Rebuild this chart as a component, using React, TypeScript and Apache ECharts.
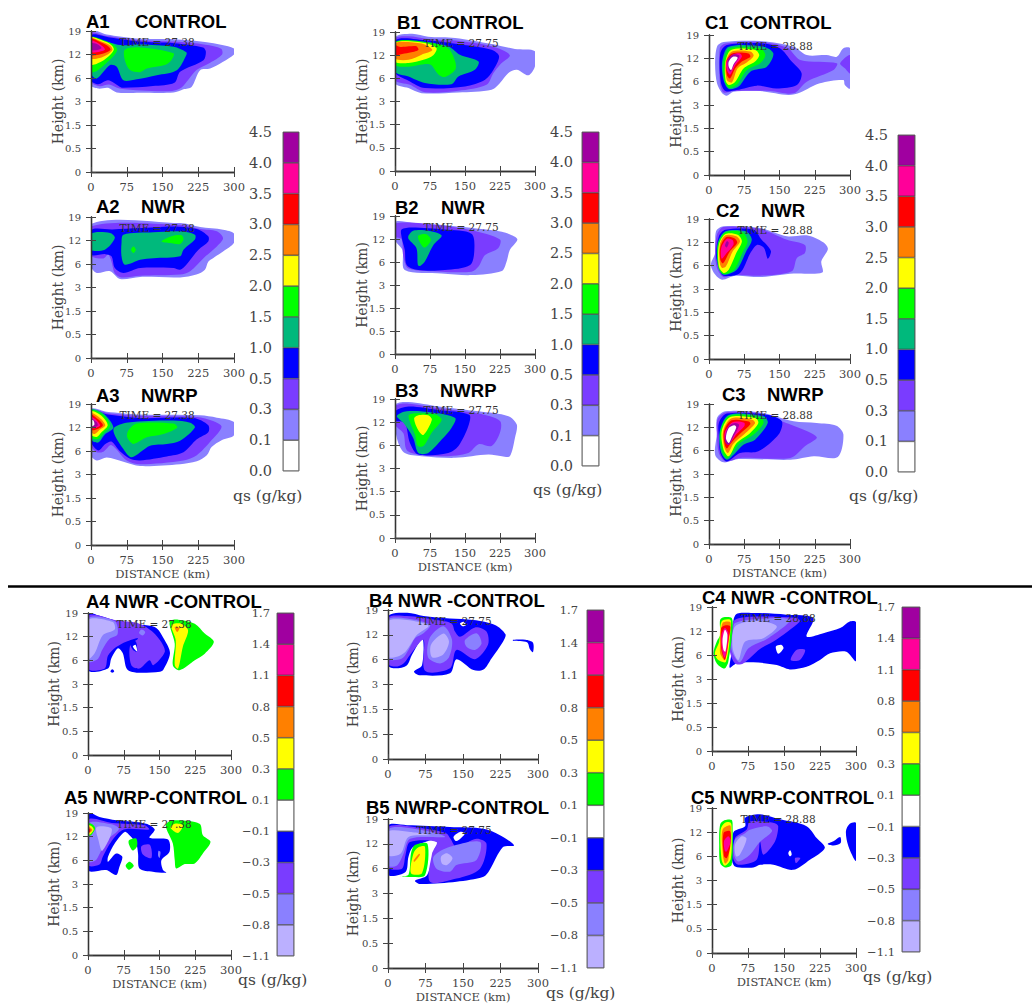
// App.tsx
import React, { useEffect, useRef } from "react";
import * as echarts from "echarts";

// colour index of each contour level
const WH = 0, PA = 1, LA = 2, VI = 3, BL = 4, TE = 5, GR = 6, YE = 7, OR = 8, RE = 9, PK = 10, MA = 11;
const COLORS = ["#ffffff", "#bbb0ff", "#8a80ff", "#7a3cff", "#0000ff", "#00b97c", "#00ff00", "#ffff00", "#ff8000", "#ff0000", "#ff0099", "#a000a0"];

const DISTANCE_TICKS = [0, 75, 150, 225, 300];
const HEIGHT_TICKS = ["0", "0.5", "1.5", "3", "6", "12", "19"]; // evenly spaced, so y below is a tick position

const QS_SEGMENTS = [WH, LA, VI, BL, TE, GR, YE, OR, RE, PK, MA];
const QS_LABELS = ["0.0", "0.1", "0.3", "0.5", "1.0", "1.5", "2.0", "2.5", "3.0", "3.5", "4.0", "4.5"];
const DIFF_SEGMENTS = [PA, LA, VI, BL, WH, GR, YE, OR, RE, PK, MA];
const DIFF_LABELS = ["\u22121.1", "\u22120.8", "\u22120.5", "\u22120.3", "\u22120.1", "0.1", "0.3", "0.5", "0.8", "1.1", "1.4", "1.7"];

type Layer = [number, number[][]];

// ── contour outlines: [level, [[distance km, height tick position], ...]], painted in order ──
const A1: Layer[] = [
  [LA, [[0,6],[33,5.85],[96,5.68],[173,5.65],[243,5.52],[300,5.26],[300,5],[250,4.4],[229,4.33],[211,3.62],[194,3.52],[173,3.38],[103,3.37],[54,3.38],[36,3.58],[15,3.55],[0,3.7]]],
  [VI, [[0,5.9],[30,5.8],[96,5.62],[175,5.55],[240,5.42],[273,5.25],[275,5],[250,4.65],[222,4.35],[205,3.95],[190,3.6],[170,3.45],[105,3.47],[60,3.55],[38,3.72],[18,3.65],[0,3.85]]],
  [BL, [[0,5.8],[40,5.72],[100,5.55],[175,5.48],[235,5.3],[241,5.12],[236,4.76],[187,4.27],[175,3.8],[130,3.66],[68,3.58],[61,3.62],[36,3.9],[15,3.73],[0,3.9]]],
  [TE, [[0,5.65],[40,5.5],[61,5.4],[103,5.43],[173,5.33],[200,5.1],[200,4.98],[180,4.33],[138,4.12],[96,3.95],[68,3.9],[54,4.48],[40,4.55],[12,3.98],[0,4.2]]],
  [GR, [[71,5.2],[103,5.3],[173,5.05],[169,4.77],[155,4.55],[117,4.4],[103,4.25],[82,4.34],[71,4.76]]],
  [GR, [[0,5.72],[25,5.62],[45,5.45],[55,5.22],[48,4.95],[30,4.6],[12,4.3],[0,4.27]]],
  [YE, [[0,5.7],[25,5.58],[42,5.42],[48,5.22],[40,4.98],[22,4.7],[0,4.58]]],
  [OR, [[0,5.68],[22,5.55],[40,5.38],[45,5.2],[35,5],[18,4.85],[0,4.84]]],
  [RE, [[0,5.65],[20,5.52],[36,5.35],[41,5.2],[28,5.05],[12,4.98],[0,4.98]]],
  [PK, [[0,5.58],[15,5.48],[27,5.3],[29,5.2],[18,5.12],[0,5.12]]],
  [MA, [[2,5.48],[15,5.42],[22,5.28],[15,5.2],[2,5.19]]],
];

const A2: Layer[] = [
  [LA, [[0,5.7],[187,5.74],[229,5.57],[277,5.46],[300,5.3],[300,4.9],[277,4.53],[256,4.25],[246,4.1],[239,3.76],[221,3.55],[187,3.43],[103,3.45],[61,3.36],[40,3.69],[12,3.62],[0,3.9]]],
  [VI, [[0,5.6],[187,5.67],[229,5.49],[264,5.39],[277,5.1],[264,4.75],[236,4.25],[208,3.69],[187,3.55],[103,3.5],[64,3.43],[50,3.6],[43,4.1],[36,4.4],[26,4.23],[0,4.37]]],
  [BL, [[0,5.43],[45,5.47],[103,5.53],[173,5.6],[222,5.49],[246,5.18],[246,4.96],[225,4.6],[200,3.97],[187,3.76],[173,3.83],[103,3.83],[68,3.62],[50,3.83],[43,4.33],[30,4.42],[0,4.4]]],
  [TE, [[0,5.28],[40,5.32],[50,5.11],[29,4.61],[0,4.61]]],
  [TE, [[68,5.25],[131,5.35],[187,5.39],[218,5.25],[218,5.04],[194,4.61],[187,4.33],[131,4.25],[103,4.18],[71,3.97],[64,4.33],[64,4.89]]],
  [GR, [[148,4.96],[169,5.18],[190,5.22],[194,5.04],[187,4.85],[166,4.89]]],
  [GR, [[89,4.75],[94,4.61],[89,4.47],[84,4.61]]],
];

const A3: Layer[] = [
  [LA, [[0,5.77],[33,5.67],[103,5.55],[229,5.52],[264,5.42],[300,5.23],[300,4.67],[274,4.46],[253,4.17],[243,3.82],[222,3.56],[187,3.44],[103,3.36],[68,3.54],[33,3.72],[12,3.6],[0,3.82]]],
  [VI, [[0,5.71],[40,5.6],[103,5.5],[222,5.45],[256,5.28],[274,5.03],[250,4.39],[222,3.82],[194,3.6],[103,3.44],[75,3.6],[43,4.25],[26,3.97],[12,3.95],[0,4.25]]],
  [BL, [[0,5.67],[36,5.55],[103,5.4],[215,5.4],[246,5.1],[246,4.8],[222,4.5],[194,3.95],[159,3.77],[103,3.6],[82,3.67],[60,4],[43,4.4],[30,4.3],[15,4.02],[0,4.4]]],
  [TE, [[47,4.93],[78,5.21],[173,5.3],[208,5.2],[218,5],[187,4.44],[159,4.3],[124,4.22],[85,3.73],[68,4.08]]],
  [GR, [[78,4.86],[96,5.17],[173,5.17],[181,5],[152,4.72],[117,4.58],[89,4.3],[76,4.58]]],
  [TE, [[0,5.75],[26,5.6],[47,5],[29,4.7],[15,4.36],[0,4.5]]],
  [GR, [[0,5.72],[25,5.55],[40,5.08],[26,4.75],[14,4.5],[0,4.6]]],
  [YE, [[0,5.68],[22,5.5],[35,5.1],[22,4.8],[12,4.6],[0,4.7]]],
  [OR, [[0,5.6],[18,5.42],[30,5.1],[18,4.9],[8,4.72],[0,4.82]]],
  [RE, [[0,5.55],[15,5.35],[25,5.1],[15,4.95],[4,4.88],[0,4.95]]],
  [PK, [[0,5.45],[12,5.3],[19,5.08],[8,4.97],[0,5]]],
  [MA, [[2,5.35],[12,5.22],[14,5.08],[5,5],[2,5.02]]],
  [WH, [[0,5.3],[5,5.3],[7,5.12],[0,5.05]]],
];

const B1: Layer[] = [
  [LA, [[0,5.74],[36,5.92],[71,5.79],[129,5.74],[207,5.48],[257,5.27],[300,5.17],[300,4.52],[286,4.13],[261,4.37],[243,4.23],[225,3.8],[207,3.51],[136,3.39],[57,3.36],[29,3.58],[0,3.8]]],
  [VI, [[0,5.7],[29,5.82],[71,5.7],[129,5.63],[207,5.38],[246,5],[225,4.59],[211,4.23],[196,3.72],[136,3.46],[64,3.4],[32,3.72],[0,3.94]]],
  [BL, [[0,5.63],[71,5.63],[129,5.49],[207,5.23],[223,4.95],[211,4.37],[193,3.94],[150,3.65],[64,3.58],[29,3.9],[0,4.26]]],
  [TE, [[0,5.53],[64,5.53],[114,5.39],[139,5.02],[179,4.73],[171,4.37],[136,4.08],[121,3.75],[64,3.8],[29,4.08],[0,4.3]]],
  [GR, [[0,5.57],[71,5.56],[114,5.3],[129,4.73],[129,4.37],[107,4.06],[93,4.17],[75,4.6],[29,4.5],[0,4.6]]],
  [YE, [[0,5.53],[64,5.53],[89,5.3],[82,5],[61,4.8],[29,4.66],[0,4.73]]],
  [OR, [[0,5.52],[57,5.5],[80,5.22],[57,5.02],[29,4.8],[0,4.87]]],
  [RE, [[0,5.42],[12,5.35],[30,5.38],[46,5.38],[50,5.22],[30,5.1],[11,5.03],[0,4.97]]],
];

const B2: Layer[] = [
  [LA, [[0,5.74],[36,5.71],[107,5.6],[179,5.45],[229,5.31],[262,5],[246,4.52],[239,4.01],[229,3.61],[164,3.43],[100,3.5],[21,3.65],[16,4.52],[0,4.96]]],
  [VI, [[0,5.67],[93,5.6],[164,5.38],[225,4.98],[221,4.6],[193,4.3],[179,3.8],[164,3.58],[100,3.58],[29,3.72],[18,4.23],[14,5],[0,5.1]]],
  [BL, [[14,5.41],[36,5.5],[107,5.41],[164,5.23],[170,4.52],[161,3.87],[107,3.65],[50,3.65],[25,3.87],[21,4.52],[14,5.1]]],
  [TE, [[29,5.15],[39,5.36],[71,5.36],[100,5.15],[82,4.73],[64,4.02],[54,3.83],[49,3.87],[46,4.6],[29,5]]],
  [GR, [[50,5.15],[68,5.2],[77,4.95],[63,4.63],[51,4.95]]],
];

const B3: Layer[] = [
  [LA, [[0,5.75],[29,5.87],[93,5.68],[179,5.47],[243,5.26],[261,4.9],[257,4.32],[246,3.53],[229,3.53],[200,3.6],[129,3.46],[57,3.53],[21,3.67],[7,4.1],[0,4.82]]],
  [VI, [[0,5.68],[29,5.8],[93,5.6],[179,5.37],[225,5.05],[225,4.55],[207,3.97],[179,4.05],[157,3.67],[107,3.53],[50,3.6],[25,3.8],[18,4.52],[0,4.9]]],
  [BL, [[0,5.47],[29,5.68],[93,5.53],[159,5.32],[157,4.82],[136,3.97],[114,3.67],[50,3.6],[32,4.1],[21,4.97],[0,5.07]]],
  [TE, [[4,5.27],[25,5.47],[79,5.42],[129,5.18],[121,4.75],[100,4.25],[71,3.67],[50,3.67],[39,4.32],[18,4.97]]],
  [GR, [[29,5.27],[43,5.38],[86,5.33],[100,5.1],[79,4.55],[61,3.97],[49,3.97],[43,4.45]]],
  [YE, [[41,5.16],[50,5.3],[71,5.3],[79,5.1],[61,4.45],[50,4.65]]],
];

const C1: Layer[] = [
  [LA, [[17,5.5],[31,5.7],[109,5.74],[180,5.5],[208,5.14],[250,5.14],[272,5.07],[286,5.43],[300,5.43],[300,3.71],[289,3.86],[286,4.07],[236,3.93],[194,3.54],[169,3.43],[109,3.6],[52,3.57],[38,3.4],[28,3.5],[17,3.93],[13,4.71]]],
  [VI, [[23,5.43],[35,5.64],[109,5.7],[166,5.46],[194,4.93],[272,4.79],[265,4.5],[208,4],[180,3.5],[130,3.6],[52,3.6],[31,3.54],[23,4]]],
  [VI, [[279,4.79],[300,5.14],[300,4.36],[289,4.57]]],
  [BL, [[24,5.21],[38,5.57],[116,5.64],[151,5.43],[176,4.86],[197,4.36],[187,3.86],[144,3.71],[102,3.83],[59,3.64],[35,3.6],[25,4]]],
  [TE, [[28,4.86],[42,5.5],[116,5.5],[137,5.21],[123,4.64],[88,4.43],[63,3.79],[42,3.69],[31,4.07]]],
  [GR, [[31,4.86],[45,5.43],[109,5.43],[120,5.14],[109,4.79],[81,4.5],[59,3.86],[42,3.74],[33,4.07]]],
  [YE, [[35,4.86],[47,5.36],[98,5.36],[107,5.14],[98,4.86],[74,4.57],[56,4],[42,3.86],[35,4.07]]],
  [OR, [[36,4.86],[49,5.29],[88,5.29],[95,5.11],[81,4.83],[61,4.57],[49,3.97],[38,4.07]]],
  [RE, [[37,4.86],[49,5.21],[84,5.21],[88,5.07],[70,4.86],[56,4.57],[45,4.14],[38,4.29]]],
  [PK, [[37,4.83],[49,5.14],[66,5.21],[70,5.07],[56,4.71],[45,4.3],[38,4.5]]],
  [MA, [[40,4.93],[52,5.17],[65,5.11],[54,4.74],[45,4.43],[40,4.64]]],
  [WH, [[42,4.86],[51,5.07],[61,5.03],[52,4.74],[47,4.5],[42,4.64]]],
];

const C2: Layer[] = [
  [LA, [[15,5.47],[31,5.69],[109,5.61],[166,5.26],[208,5.3],[243,5],[253,4.71],[239,4.19],[241,3.71],[180,3.66],[109,3.51],[56,3.57],[28,3.4],[13,3.62],[4,4.04],[13,4.54]]],
  [VI, [[17,5.33],[31,5.66],[109,5.57],[166,5.11],[204,4.89],[204,4.54],[187,4.33],[176,3.76],[109,3.57],[52,3.61],[31,3.51],[17,3.9],[13,4.54]]],
  [BL, [[21,5.26],[35,5.54],[95,5.54],[112,5.11],[123,4.89],[132,4.61],[125,4.3],[117,4.76],[102,4.89],[88,4.54],[66,3.69],[31,3.57],[21,3.9],[15,4.47]]],
  [TE, [[18,4.9],[35,5.47],[78,5.47],[91,5.11],[79,4.61],[59,3.83],[31,3.61],[20,3.9]]],
  [GR, [[19,4.9],[35,5.43],[71,5.43],[82,5.04],[71,4.54],[54,3.83],[31,3.64],[20,3.95]]],
  [YE, [[21,4.9],[35,5.36],[61,5.33],[70,5.04],[58,4.54],[42,3.83],[31,3.69],[21,3.97]]],
  [OR, [[23,4.9],[35,5.3],[58,5.26],[66,5.04],[50,4.6],[36,3.97],[28,3.9],[23,4.1]]],
  [RE, [[24,4.8],[36,5.22],[54,5.18],[60,4.98],[44,4.6],[30,4.1],[24,4.25]]],
  [PK, [[26,4.75],[38,5.15],[50,5.1],[52,4.9],[38,4.55],[27,4.3]]],
  [MA, [[34,4.85],[38,5.05],[42,4.98],[38,4.78]]],
];

const C3: Layer[] = [
  [LA, [[17,5.4],[35,5.69],[109,5.64],[180,5.26],[229,5.19],[271,5.07],[286,4.69],[274,3.73],[223,3.76],[173,3.61],[63,3.64],[31,3.5],[13,3.83],[17,4.76]]],
  [VI, [[18,5.33],[35,5.64],[109,5.59],[155,5.26],[229,4.59],[204,4.19],[173,3.69],[66,3.69],[35,3.54],[21,3.9],[17,4.61]]],
  [BL, [[21,5.19],[38,5.59],[123,5.54],[155,5.26],[148,4.69],[105,3.97],[66,3.9],[38,3.54],[24,3.9],[21,4.61]]],
  [TE, [[23,4.83],[42,5.53],[116,5.47],[125,5.19],[98,4.47],[74,4.26],[56,3.9],[38,3.61],[25,3.97]]],
  [GR, [[24,4.83],[44,5.5],[109,5.44],[116,5.19],[95,4.69],[66,4.33],[52,3.97],[38,3.67],[28,3.97]]],
  [YE, [[27,4.83],[45,5.44],[98,5.4],[105,5.19],[84,4.69],[59,4.33],[42,3.76],[31,4.04]]],
  [OR, [[30,4.83],[47,5.38],[92,5.33],[98,5.17],[75,4.7],[52,4.3],[40,3.9],[32,4.2]]],
  [RE, [[32,4.83],[48,5.3],[85,5.25],[88,5.13],[65,4.7],[46,4.3],[38,4.1],[33,4.3]]],
  [PK, [[34,4.8],[50,5.22],[75,5.2],[75,5.05],[58,4.7],[42,4.25],[35,4.4]]],
  [MA, [[34,4.6],[42,5.05],[54,5.18],[64,5.1],[52,4.6],[42,4.25],[35,4.35]]],
  [WH, [[36,4.54],[42,4.97],[54,5.09],[58,5],[49,4.6],[42,4.33]]],
];

const A4: Layer[] = [
  [BL, [[0,6],[21,5.9],[80,5.55],[140,5.41],[161,4.85],[172,4.3],[158,3.6],[151,3.52],[102,3.48],[82,3.62],[73,4.3],[63,4.51],[49,4.09],[42,3.66],[0,3.59]]],
  [BL, [[47,3.54],[51,3.62],[55,3.54],[51,3.48]]],
  [VI, [[0,5.86],[59,5.69],[108,5.55],[136,5.2],[154,4.76],[161,4.35],[137,3.79],[129,4],[108,3.65],[91,3.79],[88,4.6],[105,4.93],[80,4.79],[59,4.56],[42,4.2],[35,3.66],[0,3.66]]],
  [BL, [[88,4.75],[100,4.8],[103,4.37],[94,4.45]]],
  [WH, [[94,4.58],[100,4.65],[103,4.37]]],
  [LA, [[0,5.76],[56,5.65],[62,5.1],[45,4.9],[30,4.45],[20,4.05],[0,3.95]]],
  [LA, [[112,5.3],[120,5.2],[115,5.05],[107,5.15]]],
  [PA, [[0,5.7],[52,5.62],[56,5.3],[31,5.06],[14,4.3],[0,4.05]]],
  [GR, [[171,5.63],[189,5.72],[224,5.55],[245,5.13],[264,4.78],[245,4.28],[224,4],[192,3.58],[178,3.79],[182,4.7]]],
  [YE, [[175,5.48],[196,5.55],[210,5.27],[199,4.57],[189,3.65],[182,3.79],[184,4.85]]],
  [OR, [[182,5.41],[192,5.37],[187,5.2]]],
];

const A5: Layer[] = [
  [BL, [[0,6],[24,5.83],[60,5.69],[122,5.55],[140,5.3],[129,4.95],[168,4.88],[171,4.36],[154,4],[157,3.6],[164,3.48],[136,3.52],[108,3.66],[105,4.29],[101,4.71],[87,5.06],[77,5.2],[56,4.71],[42,4.15],[42,3.94],[59,4.29],[72,4.15],[66,3.73],[59,3.38],[38,3.59],[0,3.59]]],
  [VI, [[0,5.7],[50,5.58],[119,5.48],[128,5.3],[75,5.3],[49,4.8],[31,4.15],[24,3.82],[0,3.8]]],
  [LA, [[0,5.55],[50,5.52],[65,5.32],[40,4.85],[25,4.3],[15,3.98],[0,3.95]]],
  [PA, [[18,5.4],[50,5.32],[30,4.4],[22,4.85]]],
  [VI, [[112,4.6],[130,4.65],[133,4.1],[115,4.25]]],
  [LA, [[148,4.4],[152,4.35],[150,4.1],[147,4.2]]],
  [GR, [[86,4.85],[101,4.92],[103,4.6],[94,4.42],[86,4.67]]],
  [GR, [[79,3.77],[87,3.94],[96,3.77],[86,3.6]]],
  [GR, [[0,5.55],[9,5.52],[15,5.34],[7,5.07],[0,5.05]]],
  [YE, [[0,5.5],[7,5.45],[12,5.3],[5,5.1],[0,5.1]]],
  [OR, [[0,5.42],[5,5.38],[9,5.28],[4,5.17],[0,5.15]]],
  [RE, [[0,5.38],[5,5.3],[4,5.2],[0,5.2]]],
  [GR, [[163,5.48],[178,5.69],[234,5.55],[241,5.06],[257,4.78],[241,4.29],[224,3.87],[203,3.84],[185,3.66],[182,4],[178,4.71]]],
  [YE, [[173,5.38],[182,5.55],[199,5.48],[189,5.16]]],
];

const B4: Layer[] = [
  [BL, [[0,5.73],[38,5.89],[71,5.76],[124,5.66],[171,5.6],[214,5.4],[235,5.02],[230,4.72],[207,4.05],[191,3.6],[171,3.58],[137,4.02],[124,3.45],[64,3.37],[52,3.52],[68,3.78],[69,4.85],[48,4.2],[38,3.78],[15,3.65],[0,3.78]]],
  [WH, [[144,5.46],[151,5.53],[156,5.4],[149,5.35]]],
  [BL, [[250,4.8],[275,4.8],[290,4.68],[290,4.3],[284,4.42],[278,4.7],[250,4.76]]],
  [VI, [[0,5.67],[38,5.76],[97,5.6],[127,5.46],[134,5.13],[144,4.92],[174,5.3],[197,5.13],[200,4.6],[174,4.02],[137,4.39],[124,3.65],[74,3.55],[71,4.79],[44,4.19],[31,3.85],[15,3.72],[0,3.85]]],
  [LA, [[0,5.6],[38,5.66],[84,5.4],[71,5.06],[54,4.86],[41,4.39],[28,4.05],[0,4.05]]],
  [PA, [[0,5.53],[38,5.6],[81,5.37],[58,5],[35,4.32],[18,4.12],[0,4.12]]],
  [LA, [[84,4.9],[111,5.35],[128,4.8],[122,4.1],[104,3.85],[80,4.1]]],
  [PA, [[86,4.6],[111,5.05],[122,4.72],[110,4.2],[88,4.1]]],
  [LA, [[154,4.79],[177,5.06],[187,4.66],[174,4.39],[157,4.52]]],
];

const B5: Layer[] = [
  [BL, [[0,5.72],[38,5.75],[124,5.68],[191,5.61],[224,5.35],[252,4.94],[230,4.87],[203,3.94],[191,3.67],[137,3.47],[64,3.38],[54,3.51],[78,3.73],[92,4.73],[104,5.2],[51,4.88],[41,4.48],[35,3.87],[0,3.77]]],
  [WH, [[131,5.28],[144,5.48],[154,5.42],[137,5.11]]],
  [VI, [[0,5.66],[71,5.62],[117,5.42],[125,5.2],[137,4.87],[177,5.2],[197,5],[184,4],[137,3.6],[84,3.47],[88,4.6],[97,5.07],[44,5.07],[35,4.55],[28,4],[0,4.07]]],
  [LA, [[0,5.58],[78,5.52],[114,5.28],[44,5.2],[31,4.6],[18,4.13],[0,4.13]]],
  [PA, [[0,5.48],[44,5.48],[84,5.35],[41,5.28],[25,4.6],[0,4.55]]],
  [LA, [[91,4.48],[124,4.88],[184,5.08],[177,4.35],[137,4.15],[124,3.88],[97,4]]],
  [PA, [[106,4.48],[118,4.62],[129,4.42],[118,4.15],[108,4.2]]],
  [GR, [[25,3.7],[41,3.76],[46,4.62],[54,4.95],[79,5],[74,3.73],[48,3.66]]],
  [YE, [[46,3.82],[51,4.62],[61,4.86],[74,4.88],[68,3.82]]],
  [OR, [[51,4.32],[62,4.6],[64,4.56],[53,4.28]]],
];

const C4: Layer[] = [
  [BL, [[48,5.65],[86,5.75],[155,5.68],[211,5.54],[197,4.77],[232,4.91],[267,5.12],[287,5.4],[300,5.37],[300,3.75],[280,4.14],[246,4.07],[225,3.79],[197,3.51],[162,3.4],[135,3.58],[86,3.7],[51,3.65],[37,3.47],[37,3.65],[43,4.28]]],
  [WH, [[133,4.35],[145,4.42],[149,4.28],[138,4.05]]],
  [VI, [[48,5.47],[93,5.6],[176,5.54],[183,5.4],[128,4.56],[100,4.25],[65,3.65],[48,3.65],[37,4.2],[41,5.05]]],
  [LA, [[48,5.33],[93,5.5],[162,5.47],[117,4.7],[76,4.28],[58,3.7],[41,4.2],[44,5]]],
  [PA, [[48,5.19],[93,5.42],[135,5.19],[107,4.7],[69,4.56],[55,3.79],[43,4.28]]],
  [VI, [[164,3.79],[176,4.21],[194,4.21],[183,3.79]]],
  [GR, [[17,5.47],[27,5.58],[41,5.54],[43,5.12],[34,3.72],[26,3.44],[10,3.65],[3,4.07],[10,4.56],[17,4.84]]],
  [YE, [[20,5.4],[38,5.47],[39,5.12],[29,3.72],[13,3.79],[6,4.07],[15,4.56]]],
  [OR, [[22,5.33],[38,5.37],[38,5.05],[27,3.79],[17,4.07],[18,4.56]]],
  [RE, [[19,5.12],[27,5.23],[38,5.19],[35,4.7],[27,3.8],[19,4.28]]],
  [PK, [[20,4.84],[27,5.12],[34,4.91],[30,4.14],[26,3.89],[21,4.21]]],
  [WH, [[22,4.63],[27,5.05],[32,4.84],[28,4.14],[24,4.21]]],
];

const C5: Layer[] = [
  [BL, [[46,5.04],[69,5.25],[69,5.6],[100,5.74],[142,5.53],[197,5.25],[218,4.76],[235,4.35],[204,3.86],[169,3.44],[128,3.65],[100,3.65],[86,3.54],[48,3.58],[41,3.93],[43,4.76]]],
  [BL, [[241,4.51],[253,4.62],[267,4.8],[268,4.55],[253,4.45]]],
  [BL, [[279,5.04],[287,5.35],[300,5.38],[300,3.82],[284,4.43]]],
  [WH, [[159,4.14],[163,4.25],[166,4.07],[162,4]]],
  [VI, [[48,4.76],[72,5.1],[79,5.44],[131,5.37],[138,5.24],[131,4.6],[107,4.07],[100,4.6],[93,3.86],[55,3.65],[44,3.93]]],
  [VI, [[173,3.93],[184,3.93],[175,3.72]]],
  [LA, [[48,4.7],[69,4.96],[79,5.1],[114,5.24],[125,5.04],[100,4.6],[79,4.07],[55,3.79],[46,4.07]]],
  [PA, [[48,4.48],[62,4.83],[72,4.73],[58,4.07],[50,4]]],
  [GR, [[17,5.32],[27,5.5],[41,5.5],[43,5.18],[41,3.65],[27,3.54],[17,3.72],[15,4.48]]],
  [YE, [[18,5.1],[27,5.39],[39,5.39],[41,5.11],[39,3.89],[27,3.61],[20,3.86]]],
  [OR, [[22,5.1],[38,5.28],[39,4.97],[34,3.86],[27,3.7],[22,4.21]]],
  [RE, [[24,4.97],[38,5.04],[38,4.41],[31,3.93],[25,4]]],
  [PK, [[25,4.62],[34,4.83],[39,4.62],[31,4.21],[27,4.21]]],
];

// ── page layout ──
const PANELS: { layers: Layer[]; time: string; box: number[]; xName?: boolean; nameX: number }[] = [
  { layers: A1, time: "27.38", box: [91, 31, 234, 172], nameX: 34 },
  { layers: A2, time: "27.38", box: [91, 217, 234, 358], nameX: 34 },
  { layers: A3, time: "27.38", box: [91, 404, 234, 545], xName: true, nameX: 34 },
  { layers: B1, time: "27.75", box: [395, 32, 535, 171], nameX: 34 },
  { layers: B2, time: "27.75", box: [395, 216, 535, 354], nameX: 34 },
  { layers: B3, time: "27.75", box: [395, 399, 535, 538], xName: true, nameX: 34 },
  { layers: C1, time: "28.88", box: [709, 35, 850, 175], nameX: 34 },
  { layers: C2, time: "28.88", box: [709, 219, 850, 359], nameX: 34 },
  { layers: C3, time: "28.88", box: [709, 404, 850, 544], xName: true, nameX: 34 },
  { layers: A4, time: "27.38", box: [88, 613, 231, 755], nameX: 35 },
  { layers: A5, time: "27.38", box: [88, 813, 231, 955], xName: true, nameX: 35 },
  { layers: B4, time: "27.75", box: [388, 610, 538, 759], nameX: 36 },
  { layers: B5, time: "27.75", box: [388, 819, 538, 968], xName: true, nameX: 36 },
  { layers: C4, time: "28.88", box: [712, 607, 856, 751], nameX: 35 },
  { layers: C5, time: "28.88", box: [712, 808, 856, 953], xName: true, nameX: 35 },
];

const COLORBARS = [
  { segments: QS_SEGMENTS, labels: QS_LABELS, box: [283, 132, 299, 471], gap: 11, size: 14.5, unit: [233, 496] },
  { segments: QS_SEGMENTS, labels: QS_LABELS, box: [582, 132, 599, 466], gap: 9, size: 14.5, unit: [533, 490] },
  { segments: QS_SEGMENTS, labels: QS_LABELS, box: [898, 135, 915, 472], gap: 10, size: 14.5, unit: [849, 496] },
  { segments: DIFF_SEGMENTS, labels: DIFF_LABELS, box: [277, 613, 294, 956], gap: 7, size: 11.5, unit: [238, 980] },
  { segments: DIFF_SEGMENTS, labels: DIFF_LABELS, box: [587, 610, 604, 968], gap: 9, size: 11.5, unit: [546, 993] },
  { segments: DIFF_SEGMENTS, labels: DIFF_LABELS, box: [902, 607, 920, 952], gap: 7, size: 11.5, unit: [863, 977] },
];

const TITLES: [string, number, number][] = [
  ["A1", 86, 21.5], ["CONTROL", 135, 21.5],
  ["A2", 96, 206], ["NWR", 141, 206],
  ["A3", 96, 395], ["NWRP", 141, 395],
  ["B1", 397, 22.5], ["CONTROL", 432, 22.5],
  ["B2", 395, 207], ["NWR", 441, 207],
  ["B3", 395, 390], ["NWRP", 440, 390],
  ["C1", 705, 22.5], ["CONTROL", 740, 22.5],
  ["C2", 716, 210], ["NWR", 761, 210],
  ["C3", 722, 394], ["NWRP", 767, 394],
  ["A4 NWR -CONTROL", 86, 601],
  ["A5 NWRP-CONTROL", 64, 797],
  ["B4 NWR -CONTROL", 369, 600],
  ["B5 NWRP-CONTROL", 366, 807],
  ["C4 NWR -CONTROL", 702, 597],
  ["C5 NWRP-CONTROL", 691, 797],
];

const SERIF = "DejaVu Serif";
const INK = "#444444";

const App: React.FC = () => {
  const chartRef = useRef<HTMLDivElement>(null);

  useEffect(() => {
    if (!chartRef.current) return;
    const chart = echarts.init(chartRef.current, undefined, { renderer: "svg" });

    const grids: any[] = [];
    const xAxes: any[] = [];
    const yAxes: any[] = [];
    const series: any[] = [];
    const texts: any[] = [];

    const toGrid = (b: number[], show = false) => ({
      left: b[0],
      top: b[1],
      width: b[2] - b[0],
      height: b[3] - b[1],
      show,
      borderColor: "#888888",
      borderWidth: 1,
    });

    const frame = { lineStyle: { color: "#333333", width: 1.3 } };
    const ticks = { inside: true, length: 5, lineStyle: { color: "#444444", width: 1 } };

    // ── contour panels ──
    PANELS.forEach((p) => {
      const g = grids.length;
      grids.push(toGrid(p.box));
      const xIndex = xAxes.length;
      const yIndex = yAxes.length;

      xAxes.push(
        {
          gridIndex: g, type: "value", min: 0, max: 300, interval: 75, z: 5,
          axisLine: frame, axisTick: ticks, splitLine: { show: false },
          axisLabel: { color: INK, fontFamily: SERIF, fontSize: 11.5, margin: 9, hideOverlap: false,
            formatter: (v: number) => (DISTANCE_TICKS.includes(v) ? String(v) : "") },
          name: p.xName ? "DISTANCE (km)" : "",
          nameLocation: "middle", nameGap: 23, nameMoveOverlap: false,
          nameTextStyle: { color: INK, fontFamily: SERIF, fontSize: 11.5 },
        },
        {
          gridIndex: g, type: "value", position: "top", min: 0, max: 300, interval: 75, z: 5,
          axisLine: frame, axisTick: ticks, axisLabel: { show: false }, splitLine: { show: false },
        },
      );
      yAxes.push(
        {
          gridIndex: g, type: "value", min: 0, max: 6, interval: 1, z: 5,
          axisLine: frame, axisTick: ticks, splitLine: { show: false },
          axisLabel: { color: INK, fontFamily: SERIF, fontSize: 10, margin: 10,
            formatter: (v: number) => HEIGHT_TICKS[v] },
          name: "Height (km)", nameLocation: "middle", nameGap: p.nameX - 8, nameMoveOverlap: false,
          nameTextStyle: { color: INK, fontFamily: SERIF, fontSize: 14 },
        },
        {
          gridIndex: g, type: "value", position: "right", min: 0, max: 6, interval: 1, z: 5,
          axisLine: frame, axisTick: ticks, axisLabel: { show: false }, splitLine: { show: false },
        },
      );

      series.push({
        type: "custom",
        coordinateSystem: "cartesian2d",
        xAxisIndex: xIndex,
        yAxisIndex: yIndex,
        silent: true,
        clip: true,
        data: p.layers.map((_, i) => [i, 0]),
        renderItem: (params: any, api: any) => {
          const [level, pts] = p.layers[params.dataIndex];
          return {
            type: "polygon",
            shape: { points: pts.map((pt) => api.coord(pt)), smooth: 0.3 },
            style: { fill: COLORS[level] },
          };
        },
      });

      texts.push({
        type: "text", x: p.box[0] + 28.5, y: p.box[1] + 11, z: 20, silent: true,
        style: { text: `TIME = ${p.time}`, font: `10.5px '${SERIF}'`, fill: "#333333", verticalAlign: "middle" },
      });
    });

    // ── colour bars: eleven stacked equal blocks on an index axis ──
    COLORBARS.forEach((c) => {
      const g = grids.length;
      grids.push(toGrid(c.box, true));
      const xIndex = xAxes.length;
      const yIndex = yAxes.length;
      xAxes.push({ gridIndex: g, type: "category", data: ["qs"], show: false });
      yAxes.push({
        gridIndex: g, type: "value", min: 0, max: 11, interval: 1,
        axisLine: { show: false }, axisTick: { show: false }, splitLine: { show: false },
        axisLabel: { color: INK, fontFamily: SERIF, fontSize: c.size, margin: c.gap,
          formatter: (v: number) => c.labels[v] },
      });
      c.segments.forEach((level) => {
        series.push({
          type: "bar", stack: `bar${g}`, xAxisIndex: xIndex, yAxisIndex: yIndex,
          barWidth: "100%", silent: true, data: [1],
          itemStyle: { color: COLORS[level], borderColor: "#333333", borderWidth: 0.6 },
        });
      });
      texts.push({
        type: "text", x: c.unit[0], y: c.unit[1], z: 20, silent: true,
        style: { text: "qs (g/kg)", font: `15.5px '${SERIF}'`, fill: INK, verticalAlign: "middle" },
      });
    });

    // ── panel titles and the divider ──
    TITLES.forEach(([text, x, y]) => {
      texts.push({
        type: "text", x, y, z: 20, silent: true,
        style: { text, font: "bold 18.5px 'Liberation Sans'", fill: "#000000", verticalAlign: "middle" },
      });
    });
    texts.push({
      type: "line", z: 20, silent: true,
      shape: { x1: 8, y1: 586.5, x2: 1032, y2: 586.5 },
      style: { stroke: "#000000", lineWidth: 2.5 },
    });

    chart.setOption({
      animation: false,
      backgroundColor: "#ffffff",
      grid: grids,
      xAxis: xAxes,
      yAxis: yAxes,
      series,
      graphic: { elements: texts },
    });

    return () => chart.dispose();
  }, []);

  return (
    <div
      ref={chartRef}
      style={{ position: "absolute", left: 0, top: 0, width: 1032, height: 1004 }}
    />
  );
};

export default App;
